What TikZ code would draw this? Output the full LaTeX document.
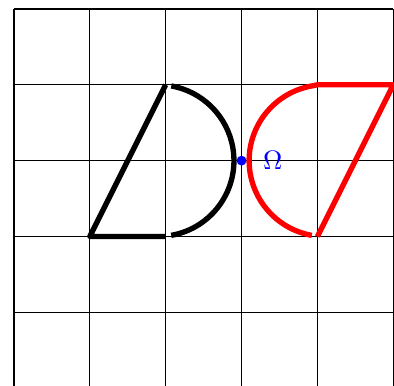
\documentclass[tikz,border=0pt]{standalone}
\usepackage{tikz}
\usepackage{amsmath}
\usepackage{amssymb}
\usepackage{xcolor}
\usetikzlibrary{calc}

\begin{document}
\begin{tikzpicture}[line join=round]
                \useasboundingbox (-0.184,-2.96) rectangle (5.01,2.118);
                % Draw the grid and the centre of the point reflection
                \draw[line width=0.45pt] (0,-3) grid (5,2);
                \coordinate (omega) at (3,0);

                % Original figure (black)
                \coordinate (a1) at (1,-1);
                \coordinate (b1) at (2,-1);
                \coordinate (c1) at (2,1);
                \coordinate (d1) at ($(1.9,0)+(-80:1)$);
                \draw[line width=2pt] (c1) -- (a1) -- (b1);
                \draw[line width=2pt] (d1) arc (-80:80:1);

                % Image under the reflection in omega (red)
                \coordinate (a2) at (5,1);
                \coordinate (b2) at (4,1);
                \coordinate (c2) at (4,-1);
                \coordinate (d2) at ($(4.1,0)+(100:1)$);
                \draw[red, line width=2pt] (c2) -- (a2) -- (b2) -- (d2) arc (100:260:1);

                \fill[blue] (omega) circle (0.065);
                \node[blue] (omegalabel) at (3.41,0) {$\Omega$};
            \end{tikzpicture}
\end{document}
